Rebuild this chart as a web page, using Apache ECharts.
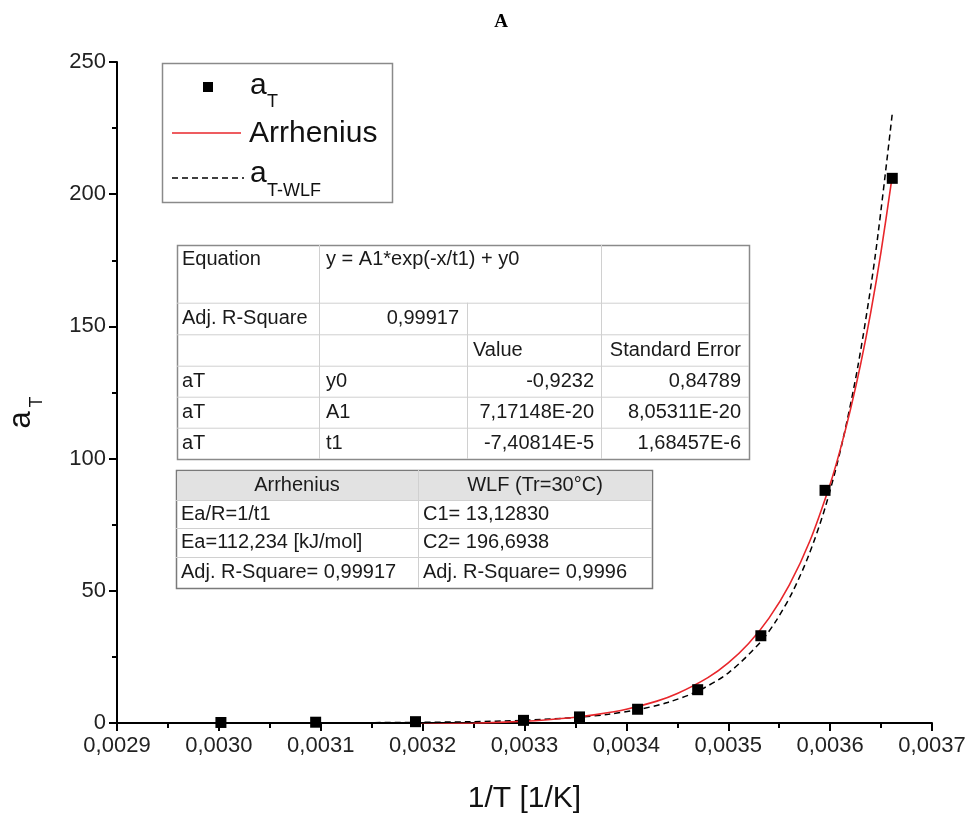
<!DOCTYPE html>
<html>
<head>
<meta charset="utf-8">
<script src="https://cdn.jsdelivr.net/npm/echarts@6/dist/echarts.min.js"></script>
<style>html,body{margin:0;padding:0;background:#fff}#c{width:969px;height:819px}</style>
</head>
<body>
<div id="c"></div>
<script>
// ---- data ----
var pointsX = [0.003002, 0.003095, 0.003193, 0.003299, 0.003354, 0.003411, 0.003470, 0.003532, 0.003595, 0.003661];
var pointsY = [0.2, 0.3, 0.5, 1.0, 2.3, 5.2, 12.6, 33.0, 88.0, 206.0];

var arrX = [0.00319, 0.0032, 0.00325, 0.0033, 0.00332, 0.00335, 0.00337, 0.0034, 0.00343, 0.00345, 0.00348, 0.0035, 0.00352, 0.00354, 0.00356, 0.00358, 0.0036, 0.00361, 0.00362, 0.00363, 0.00364, 0.00365, 0.003661];
var arrY = [-0.56, -0.51, -0.11, 0.67, 1.16, 2.20, 3.17, 5.21, 8.27, 11.12, 17.14, 22.74, 30.07, 39.68, 52.26, 68.74, 90.34, 103.5, 118.6, 135.8, 155.6, 178.3, 206.9];

var wlfX = [0.0031235, 0.0031432, 0.0031934, 0.0032452, 0.0032987, 0.003354, 0.0033824, 0.0034112, 0.0034406, 0.0034704, 0.0035008, 0.0035317, 0.0035474, 0.0035632, 0.0035791, 0.0035952, 0.0036114, 0.0036278, 0.0036443, 0.003661];
var wlfY = [0.09, 0.12, 0.23, 0.47, 1.0, 2.20, 3.32, 5.05, 7.78, 12.13, 19.15, 30.62, 38.92, 49.64, 63.53, 81.56, 105.2, 136.1, 176.8, 230.5];

var xTickLabels = ['0,0029','0,0030','0,0031','0,0032','0,0033','0,0034','0,0035','0,0036','0,0037'];
var yTickLabels = ['0','50','100','150','200','250'];

var table1 = [
  ['Equation', 'y = A1*exp(-x/t1) + y0', '', ''],
  ['Adj. R-Square', '0,99917', '', ''],
  ['', '', 'Value', 'Standard Error'],
  ['aT', 'y0', '-0,9232', '0,84789'],
  ['aT', 'A1', '7,17148E-20', '8,05311E-20'],
  ['aT', 't1', '-7,40814E-5', '1,68457E-6']
];
var table2 = [
  ['Arrhenius', 'WLF (Tr=30°C)'],
  ['Ea/R=1/t1', 'C1= 13,12830'],
  ['Ea=112,234 [kJ/mol]', 'C2= 196,6938'],
  ['Adj. R-Square= 0,99917', 'Adj. R-Square= 0,9996']
];

function zip(a, b) { return a.map(function (v, i) { return [v, b[i]]; }); }

var FONT = '"Liberation Sans", Arial, sans-serif';
var chart = echarts.init(document.getElementById('c'), null, {renderer: 'canvas'});

// ---- graphic elements: title, y name, legend, tables ----
var g = [];
g.push({type: 'text', x: 501, y: 22, style: {text: 'A', font: 'bold 19px "Liberation Serif", "Times New Roman", serif', fill: '#000', textAlign: 'center', textVerticalAlign: 'middle'}});
// y axis name (rotated)
g.push({type: 'group', x: 37, y: 412, rotation: Math.PI / 2, children: [
  {type: 'text', x: -8, y: 0, style: {text: 'a', font: '31px ' + FONT, fill: '#111', textAlign: 'center', textVerticalAlign: 'bottom'}},
  {type: 'text', x: 10, y: 9, style: {text: 'T', font: '18px ' + FONT, fill: '#111', textAlign: 'center', textVerticalAlign: 'bottom'}}
]});
// legend
g.push({type: 'rect', shape: {x: 162.5, y: 63.5, width: 230, height: 139}, style: {fill: '#fff', stroke: '#8a8a8a', lineWidth: 1.5}, z: 10});
g.push({type: 'rect', shape: {x: 203, y: 82, width: 10, height: 10}, style: {fill: '#000'}, z: 11});
g.push({type: 'text', x: 250, y: 101, style: {text: 'a', font: '30px ' + FONT, fill: '#111', textVerticalAlign: 'bottom'}, z: 11});
g.push({type: 'text', x: 267, y: 111, style: {text: 'T', font: '18px ' + FONT, fill: '#111', textVerticalAlign: 'bottom'}, z: 11});
g.push({type: 'line', shape: {x1: 172, y1: 133, x2: 241, y2: 133}, style: {stroke: '#e8262b', lineWidth: 1.6}, z: 11});
g.push({type: 'text', x: 249, y: 134, style: {text: 'Arrhenius', font: '30px ' + FONT, fill: '#111', textVerticalAlign: 'middle'}, z: 11});
g.push({type: 'line', shape: {x1: 172, y1: 178, x2: 244, y2: 178}, style: {stroke: '#000', lineWidth: 1.5, lineDash: [6, 4]}, z: 11});
g.push({type: 'text', x: 250, y: 189, style: {text: 'a', font: '30px ' + FONT, fill: '#111', textVerticalAlign: 'bottom'}, z: 11});
g.push({type: 'text', x: 267, y: 200, style: {text: 'T-WLF', font: '18px ' + FONT, fill: '#111', textVerticalAlign: 'bottom'}, z: 11});

// table 1
(function () {
  var L = 177, R = 749, rows = [245, 302.7, 334.3, 365.7, 396.7, 427.7, 459];
  var z = 10, inner = '#d0d0d0';
  g.push({type: 'rect', shape: {x: L + 0.5, y: rows[0] + 0.5, width: R - L, height: rows[6] - rows[0]}, style: {fill: '#fff', stroke: '#8a8a8a', lineWidth: 1.5}, z: z});
  for (var i = 1; i < 6; i++) g.push({type: 'line', shape: {x1: L, y1: rows[i] + 0.5, x2: R, y2: rows[i] + 0.5}, style: {stroke: inner, lineWidth: 1}, z: z});
  g.push({type: 'line', shape: {x1: 319.5, y1: rows[0], x2: 319.5, y2: rows[6]}, style: {stroke: inner, lineWidth: 1}, z: z});
  g.push({type: 'line', shape: {x1: 467.5, y1: rows[1], x2: 467.5, y2: rows[6]}, style: {stroke: inner, lineWidth: 1}, z: z});
  g.push({type: 'line', shape: {x1: 601.5, y1: rows[0], x2: 601.5, y2: rows[6]}, style: {stroke: inner, lineWidth: 1}, z: z});
  var f = '20px ' + FONT;
  for (var r = 0; r < 6; r++) {
    var cy = r === 0 ? 259 : (rows[r] + rows[r + 1]) / 2;
    var row = table1[r];
    var specs;
    if (r === 0) specs = [[182, 'left'], [326, 'left'], [0, ''], [0, '']];
    else if (r === 1) specs = [[182, 'left'], [459, 'right'], [0, ''], [0, '']];
    else if (r === 2) specs = [[182, 'left'], [326, 'left'], [473, 'left'], [741, 'right']];
    else specs = [[182, 'left'], [326, 'left'], [594, 'right'], [741, 'right']];
    for (var c = 0; c < 4; c++) {
      if (!row[c]) continue;
      g.push({type: 'text', x: specs[c][0], y: cy, style: {text: row[c], font: f, fill: '#1a1a1a', textAlign: specs[c][1], textVerticalAlign: 'middle'}, z: z + 1});
    }
  }
})();

// table 2
(function () {
  var L = 176, R = 652, rows = [470, 500, 528, 557, 588], mid = 418;
  var z = 10, inner = '#d0d0d0';
  g.push({type: 'rect', shape: {x: L + 0.5, y: rows[0] + 0.5, width: R - L, height: rows[4] - rows[0]}, style: {fill: '#fff', stroke: '#7a7a7a', lineWidth: 1.5}, z: z});
  g.push({type: 'rect', shape: {x: L + 1.5, y: rows[0] + 1.5, width: R - L - 2, height: rows[1] - rows[0] - 1.5}, style: {fill: '#e2e2e2'}, z: z});
  for (var i = 1; i < 4; i++) g.push({type: 'line', shape: {x1: L, y1: rows[i] + 0.5, x2: R, y2: rows[i] + 0.5}, style: {stroke: inner, lineWidth: 1}, z: z});
  g.push({type: 'line', shape: {x1: mid + 0.5, y1: rows[0], x2: mid + 0.5, y2: rows[4]}, style: {stroke: inner, lineWidth: 1}, z: z});
  var f = '20px ' + FONT;
  for (var r = 0; r < 4; r++) {
    var cy = (rows[r] + rows[r + 1]) / 2;
    if (r === 0) {
      g.push({type: 'text', x: (L + mid) / 2, y: cy, style: {text: table2[r][0], font: f, fill: '#1a1a1a', textAlign: 'center', textVerticalAlign: 'middle'}, z: z + 1});
      g.push({type: 'text', x: (mid + R) / 2, y: cy, style: {text: table2[r][1], font: f, fill: '#1a1a1a', textAlign: 'center', textVerticalAlign: 'middle'}, z: z + 1});
    } else {
      g.push({type: 'text', x: 181, y: cy, style: {text: table2[r][0], font: f, fill: '#1a1a1a', textAlign: 'left', textVerticalAlign: 'middle'}, z: z + 1});
      g.push({type: 'text', x: 423, y: cy, style: {text: table2[r][1], font: f, fill: '#1a1a1a', textAlign: 'left', textVerticalAlign: 'middle'}, z: z + 1});
    }
  }
})();

var axisCommon = {
  axisLine: {show: true, onZero: false, lineStyle: {color: '#000', width: 2}},
  axisTick: {show: true, inside: false, length: 8, lineStyle: {color: '#000', width: 2}},
  minorTick: {show: true, splitNumber: 2, length: 5, lineStyle: {color: '#000', width: 2}},
  splitLine: {show: false}
};

chart.setOption({
  animation: false,
  backgroundColor: '#fff',
  grid: {left: 117, right: 37, top: 62, bottom: 95, containLabel: false},
  xAxis: Object.assign({
    type: 'value', min: 0.0029, max: 0.0037, interval: 0.0001,
    name: '1/T [1/K]', nameLocation: 'middle', nameGap: 61,
    nameTextStyle: {fontFamily: FONT, fontSize: 30, color: '#111'},
    axisLabel: {margin: 12, fontFamily: FONT, fontSize: 22, color: '#222',
      formatter: function (v) { var i = Math.round((v - 0.0029) / 0.0001); return xTickLabels[i] || ''; }}
  }, axisCommon),
  yAxis: Object.assign({
    type: 'value', min: 0, max: 250, interval: 50,
    axisLabel: {margin: 11, fontFamily: FONT, fontSize: 22, color: '#222',
      formatter: function (v) { return yTickLabels[Math.round(v / 50)]; }}
  }, axisCommon),
  graphic: g,
  series: [
    {type: 'line', name: 'a_T-WLF', data: zip(wlfX, wlfY), smooth: 0.3, showSymbol: false, symbol: 'none',
      lineStyle: {color: '#000', width: 1.5, type: [6, 4]}, z: 3},
    {type: 'line', name: 'Arrhenius', data: zip(arrX, arrY), smooth: 0.3, showSymbol: false, symbol: 'none',
      lineStyle: {color: '#e8262b', width: 1.6}, z: 4},
    {type: 'scatter', name: 'a_T', data: zip(pointsX, pointsY), symbol: 'rect', symbolSize: 11,
      itemStyle: {color: '#000', opacity: 1}, z: 5}
  ]
});
</script>
</body>
</html>
